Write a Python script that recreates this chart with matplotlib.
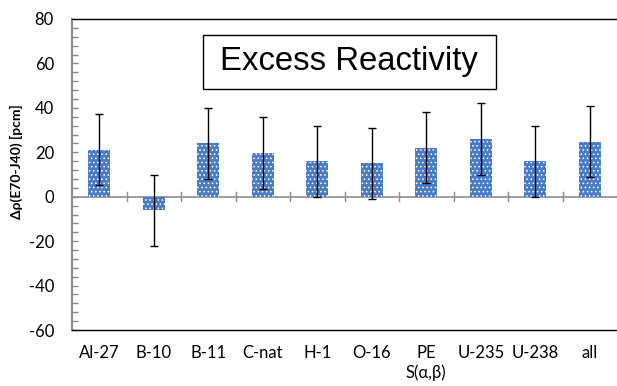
import matplotlib
matplotlib.use("Agg")
import matplotlib.pyplot as plt
from matplotlib.patches import Rectangle
import numpy as np

categories = ["Al-27", "B-10", "B-11", "C-nat", "H-1", "O-16", "PE\nS(α,β)", "U-235", "U-238", "all"]
values = [21.2, -6.0, 24.0, 19.7, 16.0, 15.0, 22.0, 26.0, 16.0, 24.8]
errors = [16.0, 16.0, 16.0, 16.0, 16.0, 16.0, 16.0, 16.0, 16.0, 16.0]
title_text = "Excess Reactivity"
ylabel = "Δρ(E70-J40) [pcm]"

plt.rcParams['font.family'] = ['Lato', 'DejaVu Sans']
plt.rcParams['axes.unicode_minus'] = False
plt.rcParams['hatch.linewidth'] = 0.6

fig = plt.figure(figsize=(6.17, 3.86), dpi=100)
ax = fig.add_axes([0.1167, 0.145, 0.8833, 0.8058])

x = np.arange(len(categories))
ax.bar(x, values, width=0.4, color="#4a7cc6", edgecolor="white", linewidth=0,
       hatch="....", zorder=2)
ax.errorbar(x, values, yerr=errors, fmt="none", ecolor="black", elinewidth=1.0,
            capsize=3, capthick=1.0, zorder=3)

ax.set_xlim(-0.5, len(categories) - 0.5)
ax.set_ylim(-60, 80)
ax.set_yticks(np.arange(-60, 81, 20))
ax.set_yticks(np.arange(-60, 81, 4), minor=True)
ax.tick_params(axis='y', which='major', direction='in', length=4, color='#8c8c8c',
               labelsize=12, width=1, pad=13)
ax.tick_params(axis='y', which='minor', direction='in', length=4, color='#8c8c8c', width=1)

ax.set_xticks(x)
ax.set_xticklabels(categories, fontsize=12)
ax.tick_params(axis='x', which='major', length=0, pad=11)

# zero line with boundary tick marks
ax.axhline(0, color='#8c8c8c', linewidth=1.2, zorder=1)
for b in np.arange(0.5, len(categories) - 0.5, 1.0):
    ax.plot([b, b], [-2, 2], color='#8c8c8c', linewidth=1.0, zorder=1)

for s in ['top', 'bottom']:
    ax.spines[s].set_color('black')
    ax.spines[s].set_linewidth(1.0)
ax.spines['left'].set_color('#8c8c8c')
ax.spines['left'].set_linewidth(1.5)
ax.spines['right'].set_visible(False)

ax.set_ylabel(ylabel, fontsize=10, fontweight='bold')
ax.yaxis.set_label_coords(-0.090, 0.543)

ax.add_patch(Rectangle((0.240, 0.775), 0.538, 0.1736, transform=ax.transAxes,
                       facecolor='white', edgecolor='black', linewidth=1.0, zorder=5))
ax.text(0.509, 0.862, title_text, transform=ax.transAxes, ha='center', va='center',
        fontsize=23.7, family=['Liberation Sans', 'DejaVu Sans'], zorder=6)

fig.savefig("out.png", dpi=100)
